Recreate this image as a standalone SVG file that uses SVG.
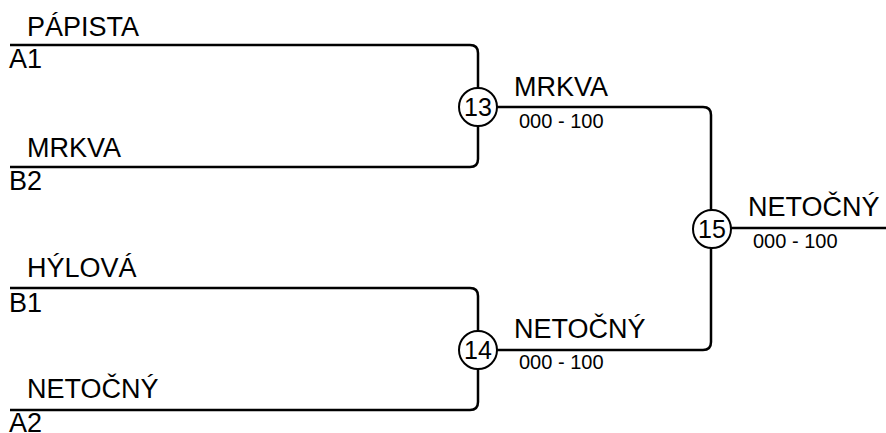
<svg xmlns="http://www.w3.org/2000/svg" width="886" height="433" viewBox="0 0 886 433">
<style>
.ln{fill:none;stroke:#000;stroke-width:2.5}
.c{fill:#fff;stroke:#000;stroke-width:2}
.t{font-family:"Liberation Sans",Arial,sans-serif;font-size:27px;fill:#000}
.n{font-family:"Liberation Sans",Arial,sans-serif;font-size:25px;fill:#000;text-anchor:middle}
.s{font-family:"Liberation Sans",Arial,sans-serif;font-size:20px;fill:#000}
</style>
<rect width="886" height="433" fill="#fff"/>
<g id="connectors">
<path class="ln" d="M10,45 H470 Q478,45 478,53 V88"/>
<path class="ln" d="M10,167 H470 Q478,167 478,159 V126"/>
<path class="ln" d="M497,107 H703 Q711,107 711,115 V210"/>
<path class="ln" d="M10,288 H470 Q478,288 478,296 V331"/>
<path class="ln" d="M10,410 H470 Q478,410 478,402 V369"/>
<path class="ln" d="M497,350 H703 Q711,350 711,342 V248"/>
<path class="ln" d="M731,228 H886"/>
</g>
<g id="seed-a1"><text class="t" x="27" y="36">PÁPISTA</text><text class="t" x="9" y="68">A1</text></g>
<g id="seed-b2"><text class="t" x="27" y="157">MRKVA</text><text class="t" x="9" y="190">B2</text></g>
<g id="seed-b1"><text class="t" x="27" y="277">HÝLOVÁ</text><text class="t" x="9" y="312">B1</text></g>
<g id="seed-a2"><text class="t" x="27" y="398">NETOČNÝ</text><text class="t" x="9" y="432">A2</text></g>
<g id="match-13"><circle class="c" cx="478" cy="107" r="19"/><text class="n" x="478" y="116">13</text><text class="t" x="514" y="96">MRKVA</text><text class="s" x="519" y="128">000 - 100</text></g>
<g id="match-14"><circle class="c" cx="478" cy="350" r="19"/><text class="n" x="478" y="359">14</text><text class="t" x="514" y="338">NETOČNÝ</text><text class="s" x="519" y="369">000 - 100</text></g>
<g id="match-15"><circle class="c" cx="712" cy="229" r="19"/><text class="n" x="712" y="238">15</text><text class="t" x="748" y="216">NETOČNÝ</text><text class="s" x="753" y="248">000 - 100</text></g>
</svg>
